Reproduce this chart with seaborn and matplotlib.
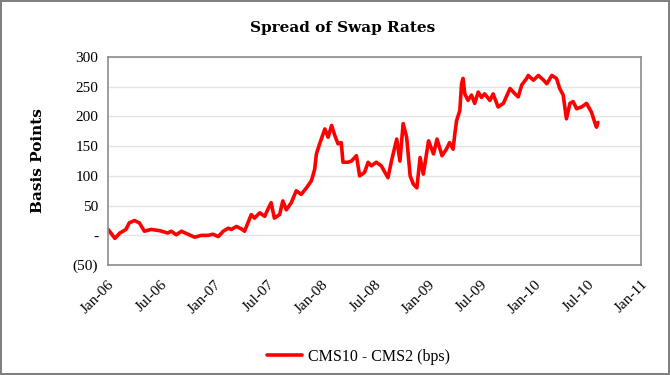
import pandas as pd
import matplotlib
matplotlib.use("Agg")
import matplotlib.pyplot as plt
import matplotlib.dates as mdates
from matplotlib.ticker import FuncFormatter
import seaborn as sns

# spread readings (bps)
dates = [
    "2006-01-02", "2006-01-25", "2006-02-11", "2006-03-04", "2006-03-15", "2006-04-02",
    "2006-04-19", "2006-05-06", "2006-05-29", "2006-06-27", "2006-07-25", "2006-08-06",
    "2006-08-23", "2006-09-10", "2006-10-02", "2006-10-25", "2006-11-17", "2006-12-10",
    "2006-12-27", "2007-01-14", "2007-01-31", "2007-02-17", "2007-02-28", "2007-03-17",
    "2007-04-03", "2007-04-14", "2007-05-07", "2007-05-18", "2007-06-05", "2007-06-22",
    "2007-07-02", "2007-07-14", "2007-07-25", "2007-08-12", "2007-08-23", "2007-09-04",
    "2007-09-21", "2007-10-08", "2007-10-25", "2007-11-12", "2007-11-29", "2007-12-10",
    "2007-12-16", "2007-12-27", "2008-01-14", "2008-01-25", "2008-02-06", "2008-02-17",
    "2008-02-28", "2008-03-10", "2008-03-16", "2008-04-02", "2008-04-14", "2008-05-01",
    "2008-05-12", "2008-05-29", "2008-06-10", "2008-06-21", "2008-07-08", "2008-07-25",
    "2008-08-17", "2008-08-29", "2008-09-16", "2008-09-27", "2008-10-08", "2008-10-20",
    "2008-11-01", "2008-11-12", "2008-11-24", "2008-12-05", "2008-12-16", "2009-01-03",
    "2009-01-20", "2009-02-01", "2009-02-18", "2009-03-05", "2009-03-16", "2009-03-28",
    "2009-04-03", "2009-04-09", "2009-04-20", "2009-04-26", "2009-05-01", "2009-05-07",
    "2009-05-18", "2009-05-30", "2009-06-10", "2009-06-22", "2009-07-03", "2009-07-14",
    "2009-08-01", "2009-08-12", "2009-08-29", "2009-09-16", "2009-10-09", "2009-10-26",
    "2009-11-06", "2009-11-18", "2009-12-05", "2009-12-10", "2009-12-28", "2010-01-14",
    "2010-02-01", "2010-02-12", "2010-03-01", "2010-03-17", "2010-03-28", "2010-04-09",
    "2010-04-20", "2010-05-02", "2010-05-13", "2010-05-25", "2010-06-11", "2010-06-28",
    "2010-07-15", "2010-07-26", "2010-08-01", "2010-08-06",
]
spread = [
    10, -5, 4, 10, 21, 25,
    21, 7, 10, 8, 4, 7,
    1, 7, 2, -3, 0, 0,
    2, -2, 7, 12, 10, 15,
    11, 7, 35, 29, 38, 32,
    43, 55, 29, 35, 58, 43,
    55, 75, 69, 80, 92, 111,
    137, 154, 179, 165, 185, 168,
    154, 156, 123, 123, 125, 134,
    100, 106, 123, 117, 123, 117,
    97, 125, 162, 125, 188, 165,
    100, 86, 80, 131, 103, 159,
    137, 162, 134, 145, 156, 145,
    171, 193, 210, 255, 264, 238,
    227, 236, 222, 241, 232, 238,
    227, 238, 216, 222, 247, 238,
    233, 253, 264, 269, 261, 269,
    261, 255, 269, 264, 247, 236,
    196, 222, 225, 213, 216, 222,
    207, 190, 182, 190,
]
yticks = [-50, 0, 50, 100, 150, 200, 250, 300]

df = pd.DataFrame({"date": pd.to_datetime(dates), "spread": spread})

sns.set_style("white")
plt.rcParams["font.family"] = ["Liberation Serif", "DejaVu Serif"]
plt.rcParams["text.color"] = "black"
plt.rcParams["xtick.color"] = "black"
plt.rcParams["ytick.color"] = "black"
plt.rcParams["axes.labelcolor"] = "black"

fig = plt.figure(figsize=(6.7, 3.75), dpi=100, edgecolor="#808080", linewidth=1.5)
ax = fig.add_axes([0.161, 0.293, 0.796, 0.555])

sns.lineplot(data=df, x="date", y="spread", color="#ff0000", linewidth=2.6,
             label="CMS10 - CMS2 (bps)", ax=ax)

ax.set_xlim(pd.Timestamp("2006-01-01"), pd.Timestamp("2011-01-01"))
ax.set_ylim(-50, 300)
ax.set_yticks(yticks)
ax.yaxis.set_major_formatter(FuncFormatter(
    lambda v, p: "-" if v == 0 else ("(%d)" % abs(v) if v < 0 else "%d" % v)))
ax.xaxis.set_major_locator(mdates.MonthLocator(bymonth=[1, 7]))
ax.xaxis.set_major_formatter(mdates.DateFormatter("%b-%y"))
plt.setp(ax.get_xticklabels(), rotation=45, ha="right", rotation_mode="anchor")

ax.grid(axis="y", color="#e4e4e4", linewidth=1)
for s in ax.spines.values():
    s.set_color("#8c8c8c")
    s.set_linewidth(1.2)
ax.tick_params(axis="both", direction="out", length=4, color="#8c8c8c",
               labelcolor="black", labelsize=11, width=1, pad=3)
ax.tick_params(axis="x", pad=5)

ax.set_xlabel("")
ax.set_ylabel("Basis Points", fontsize=11, fontweight="bold",
              family="DejaVu Serif", labelpad=20, color="black")
fig.text(0.512, 0.925, "Spread of Swap Rates", ha="center", va="center",
         fontsize=11, fontweight="bold", family="DejaVu Serif", color="black")

ax.legend(loc="center", bbox_to_anchor=(0.47, -0.44), frameon=False,
          fontsize=11.5, handlelength=2.2, handletextpad=0.4)

fig.savefig("out.png", dpi=100, edgecolor=fig.get_edgecolor())
